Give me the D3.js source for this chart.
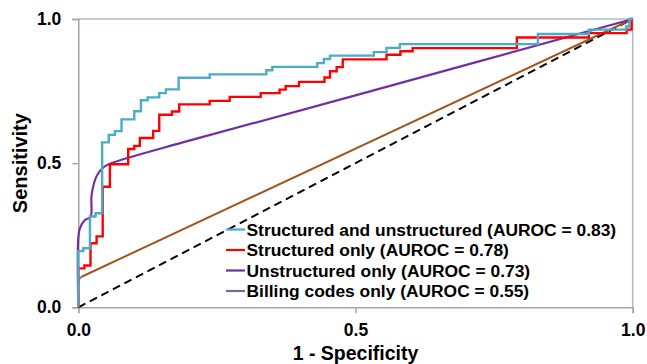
<!DOCTYPE html>
<html><head><meta charset="utf-8">
<script src="https://cdn.jsdelivr.net/npm/d3@7"></script>
<style>body{margin:0;background:#fff}svg{display:block}</style>
</head><body><svg id="c" width="647" height="364"></svg>
<script>
// ---- data ----
const tickValues = [0, 0.5, 1.0];
const tickLabels = ["0.0", "0.5", "1.0"];
const xTitle = "1 - Specificity";
const yTitle = "Sensitivity";

const legendNames = [
  "Structured and unstructured (AUROC = 0.83)",
  "Structured only (AUROC = 0.78)",
  "Unstructured only (AUROC = 0.73)",
  "Billing codes only (AUROC = 0.55)"
];
const legendColors = ["#4bacc6", "#ff0000", "#7030a0", "#8064a2"];

// Structured and unstructured (step curve: x where jump happens, y after jump)
const combinedFPR = [0, 0, 0.009, 0.021, 0.031, 0.043, 0.055, 0.066, 0.078, 0.101, 0.113, 0.125, 0.146, 0.158, 0.181, 0.237, 0.339, 0.350, 0.431, 0.443, 0.454, 0.533, 0.556, 0.580, 0.829, 0.921, 0.988, 0.994, 1];
const combinedTPR = [0, 0.195, 0.205, 0.315, 0.326, 0.572, 0.598, 0.611, 0.652, 0.680, 0.718, 0.728, 0.743, 0.756, 0.796, 0.808, 0.822, 0.834, 0.847, 0.861, 0.873, 0.885, 0.900, 0.913, 0.948, 0.963, 0.974, 1.0, 1.0];

// Structured only
const structFPR = [0, 0, 0.011, 0.022, 0.033, 0.044, 0.057, 0.090, 0.101, 0.111, 0.135, 0.146, 0.169, 0.182, 0.237, 0.273, 0.329, 0.363, 0.374, 0.398, 0.444, 0.454, 0.466, 0.477, 0.556, 0.581, 0.603, 0.791, 0.921, 0.989, 0.998, 1];
const structTPR = [0, 0.135, 0.145, 0.222, 0.246, 0.418, 0.496, 0.549, 0.560, 0.587, 0.612, 0.668, 0.679, 0.704, 0.716, 0.730, 0.743, 0.755, 0.767, 0.782, 0.797, 0.819, 0.833, 0.860, 0.876, 0.888, 0.899, 0.936, 0.951, 0.963, 1.0, 1.0];

// Unstructured only (smooth)
const unstructFPR = [0, 0, 0.003, 0.012, 0.022, 0.024, 0.033, 0.045, 0.057, 0.2, 0.5, 1];
const unstructTPR = [0, 0.24, 0.275, 0.303, 0.313, 0.39, 0.455, 0.485, 0.498, 0.578, 0.735, 1];

// Billing codes only
const billingStartFPR = [0, 0, 0.002, 0.006];
const billingStartTPR = [0, 0.08, 0.098, 0.106];
const billingFPR = [0.006, 1];
const billingTPR = [0.106, 1];
const billingLineColor = "#a0561e";

const chanceFPR = [0, 1];
const chanceTPR = [0, 1];

// ---- layout ----
const W = 647, H = 364;
const m = {left: 78.3, top: 19, right: 14.3, bottom: 56.7};
const svg = d3.select("#c");
const x = d3.scaleLinear().domain([0, 1]).range([m.left, W - m.right]);
const y = d3.scaleLinear().domain([0, 1]).range([H - m.bottom, m.top]);
const font = "'Liberation Sans', Arial, sans-serif";

// frame (top/right)
svg.append("path")
  .attr("d", `M${x(0)},${y(1)}H${x(1)}V${y(0)}`)
  .attr("fill", "none").attr("stroke", "#a9bccf").attr("stroke-width", 1.5);

// axes
const xAxis = d3.axisBottom(x).tickValues(tickValues).tickFormat((d, i) => tickLabels[i]).tickSize(6);
const yAxis = d3.axisLeft(y).tickValues(tickValues).tickFormat((d, i) => tickLabels[i]).tickSize(6).tickPadding(11);
const gx = svg.append("g").attr("transform", `translate(0,${y(0)})`).call(xAxis);
const gy = svg.append("g").attr("transform", `translate(${x(0)},0)`).call(yAxis);
[gx, gy].forEach(g => {
  g.select(".domain").attr("stroke", "#a6a6a6").attr("stroke-width", 1.5);
  g.selectAll(".tick line").attr("stroke", "#a6a6a6").attr("stroke-width", 1.5);
  g.selectAll(".tick text").attr("fill", "#000").attr("font-family", font)
    .attr("font-weight", "bold").attr("font-size", "17.5px");
});
gx.selectAll(".tick text").attr("y", 29).attr("dy", 0);

const line = d3.line().x(d => x(d[0])).y(d => y(d[1]));
const zip = (a, b) => a.map((v, i) => [v, b[i]]);

// chance diagonal
svg.append("path").datum(zip(chanceFPR, chanceTPR))
  .attr("d", line).attr("fill", "none").attr("stroke", "#000")
  .attr("stroke-width", 2).attr("stroke-dasharray", "8,5");

// billing codes
svg.append("path").datum(zip(billingFPR, billingTPR))
  .attr("d", line).attr("fill", "none").attr("stroke", billingLineColor).attr("stroke-width", 2);
svg.append("path").datum(zip(billingStartFPR, billingStartTPR))
  .attr("d", d3.line().x(d => x(d[0])).y(d => y(d[1])).curve(d3.curveCatmullRom.alpha(0.5))).attr("fill", "none")
  .attr("stroke", legendColors[3]).attr("stroke-width", 1.8);

// unstructured
svg.append("path").datum(zip(unstructFPR, unstructTPR))
  .attr("d", d3.line().x(d => x(d[0])).y(d => y(d[1])).curve(d3.curveCatmullRom.alpha(0.5)))
  .attr("fill", "none").attr("stroke", legendColors[2]).attr("stroke-width", 2.2);

const stepLine = d3.line().x(d => x(d[0])).y(d => y(d[1])).curve(d3.curveStepAfter);
// structured only
svg.append("path").datum(zip(structFPR, structTPR))
  .attr("d", stepLine).attr("fill", "none").attr("stroke", legendColors[1]).attr("stroke-width", 2.4);
// combined
svg.append("path").datum(zip(combinedFPR, combinedTPR))
  .attr("d", stepLine).attr("fill", "none").attr("stroke", legendColors[0]).attr("stroke-width", 2.4);

// legend
const lg = svg.append("g").attr("transform", "translate(226,229.5)");
legendNames.forEach((n, i) => {
  const g = lg.append("g").attr("transform", `translate(0,${i * 20.5})`);
  g.append("line").attr("x1", 0).attr("x2", 19).attr("y1", 0).attr("y2", 0)
    .attr("stroke", legendColors[i]).attr("stroke-width", 2.2);
  g.append("text").attr("x", 20.5).attr("y", 6).text(n)
    .attr("font-family", font).attr("font-weight", "bold").attr("font-size", "17.4px").attr("fill", "#000");
});

// titles
svg.append("text").attr("x", (x(0) + x(1)) / 2).attr("y", 359.5).attr("text-anchor", "middle")
  .attr("font-family", font).attr("font-weight", "bold").attr("font-size", "19.5px").text(xTitle);
svg.append("text").attr("transform", `translate(27,${(y(0) + y(1)) / 2}) rotate(-90)`).attr("text-anchor", "middle")
  .attr("font-family", font).attr("font-weight", "bold").attr("font-size", "20px").text(yTitle);
</script>
</body></html>
